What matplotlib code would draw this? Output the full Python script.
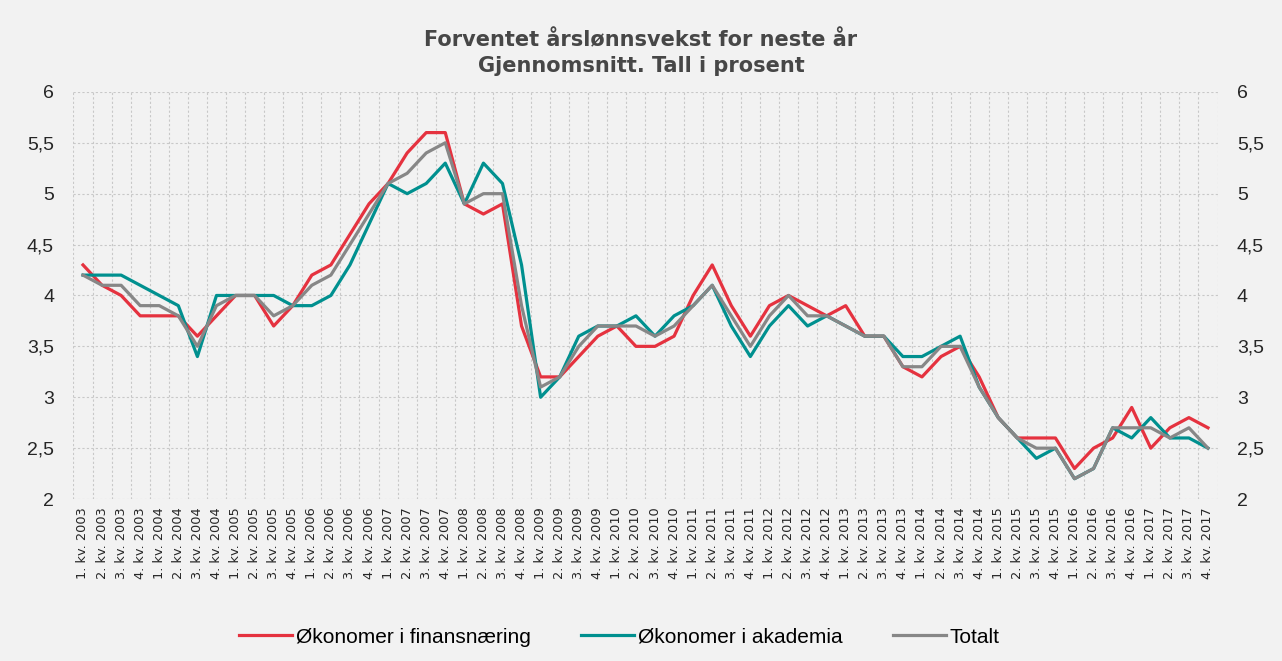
import matplotlib
matplotlib.use('Agg')
from matplotlib import pyplot as plt
from matplotlib.ticker import FuncFormatter, FixedLocator

plt.rcParams['font.family'] = ['Liberation Sans', 'DejaVu Sans']

# quarters 2003Q1 .. 2017Q4
years = list(range(2003, 2018))
labels = ['%d. kv. %d' % (q, y) for y in years for q in (1, 2, 3, 4)]

finans = [4.3, 4.1, 4.0, 3.8, 3.8, 3.8, 3.6, 3.8, 4.0, 4.0, 3.7, 3.9,
          4.2, 4.3, 4.6, 4.9, 5.1, 5.4, 5.6, 5.6, 4.9, 4.8, 4.9, 3.7,
          3.2, 3.2, 3.4, 3.6, 3.7, 3.5, 3.5, 3.6, 4.0, 4.3, 3.9, 3.6,
          3.9, 4.0, 3.9, 3.8, 3.9, 3.6, 3.6, 3.3, 3.2, 3.4, 3.5, 3.2,
          2.8, 2.6, 2.6, 2.6, 2.3, 2.5, 2.6, 2.9, 2.5, 2.7, 2.8, 2.7]
akademia = [4.2, 4.2, 4.2, 4.1, 4.0, 3.9, 3.4, 4.0, 4.0, 4.0, 4.0, 3.9,
            3.9, 4.0, 4.3, 4.7, 5.1, 5.0, 5.1, 5.3, 4.9, 5.3, 5.1, 4.3,
            3.0, 3.2, 3.6, 3.7, 3.7, 3.8, 3.6, 3.8, 3.9, 4.1, 3.7, 3.4,
            3.7, 3.9, 3.7, 3.8, 3.7, 3.6, 3.6, 3.4, 3.4, 3.5, 3.6, 3.1,
            2.8, 2.6, 2.4, 2.5, 2.2, 2.3, 2.7, 2.6, 2.8, 2.6, 2.6, 2.5]
totalt = [4.2, 4.1, 4.1, 3.9, 3.9, 3.8, 3.5, 3.9, 4.0, 4.0, 3.8, 3.9,
          4.1, 4.2, 4.5, 4.8, 5.1, 5.2, 5.4, 5.5, 4.9, 5.0, 5.0, 3.9,
          3.1, 3.2, 3.5, 3.7, 3.7, 3.7, 3.6, 3.7, 3.9, 4.1, 3.8, 3.5,
          3.8, 4.0, 3.8, 3.8, 3.7, 3.6, 3.6, 3.3, 3.3, 3.5, 3.5, 3.1,
          2.8, 2.6, 2.5, 2.5, 2.2, 2.3, 2.7, 2.7, 2.7, 2.6, 2.7, 2.5]

bg = '#f2f2f2'
red = '#e5323f'
teal = '#00908f'
grey = '#878787'

fig = plt.figure(figsize=(12.82, 6.61), dpi=100, facecolor=bg)
ax = fig.add_axes([0.0573, 0.245, 0.8924, 0.616])
ax.set_facecolor(bg)

x = list(range(len(labels)))
ax.plot(x, finans, color=red, lw=2.3, label='Økonomer i finansnæring')
ax.plot(x, akademia, color=teal, lw=2.3, label='Økonomer i akademia')
ax.plot(x, totalt, color=grey, lw=2.3, label='Totalt')

ax.set_xlim(-0.5, len(labels) - 0.5)
ax.set_ylim(2, 6)
ax.set_yticks([2, 2.5, 3, 3.5, 4, 4.5, 5, 5.5, 6])
ax.yaxis.set_major_formatter(FuncFormatter(lambda v, p: ('%g' % v).replace('.', ',')))
ax.set_xticks(x)
ax.set_xticklabels(labels, rotation=90, fontsize=9.3, family='DejaVu Sans')
ax.xaxis.set_minor_locator(FixedLocator([i - 0.5 for i in range(len(labels) + 1)]))
ax.tick_params(axis='x', which='both', length=0, pad=6, colors='#262626')
ax.tick_params(axis='y', length=0, labelsize=14, pad=14, labelright=True, colors='#262626')

ax.grid(True, which='minor', axis='x', color='#c8c8c8', ls=(0, (2, 2)), lw=0.8)
ax.grid(True, which='major', axis='y', color='#c8c8c8', ls=(0, (2, 2)), lw=0.8)
ax.set_axisbelow(True)
for s in ax.spines.values():
    s.set_visible(False)

fig.text(0.5, 0.92, 'Forventet årslønnsvekst for neste år\nGjennomsnitt. Tall i prosent',
         ha='center', va='center', fontsize=15, fontweight='bold', color='#474747',
         family='DejaVu Sans', linespacing=1.3)

fig.legend(loc='center', bbox_to_anchor=(0.483, 0.036), ncol=3, frameon=False,
           handlelength=2.55, columnspacing=2.4, handletextpad=0.2,
           prop={'size': 15})

fig.savefig('out.png', dpi=100, facecolor=bg)
